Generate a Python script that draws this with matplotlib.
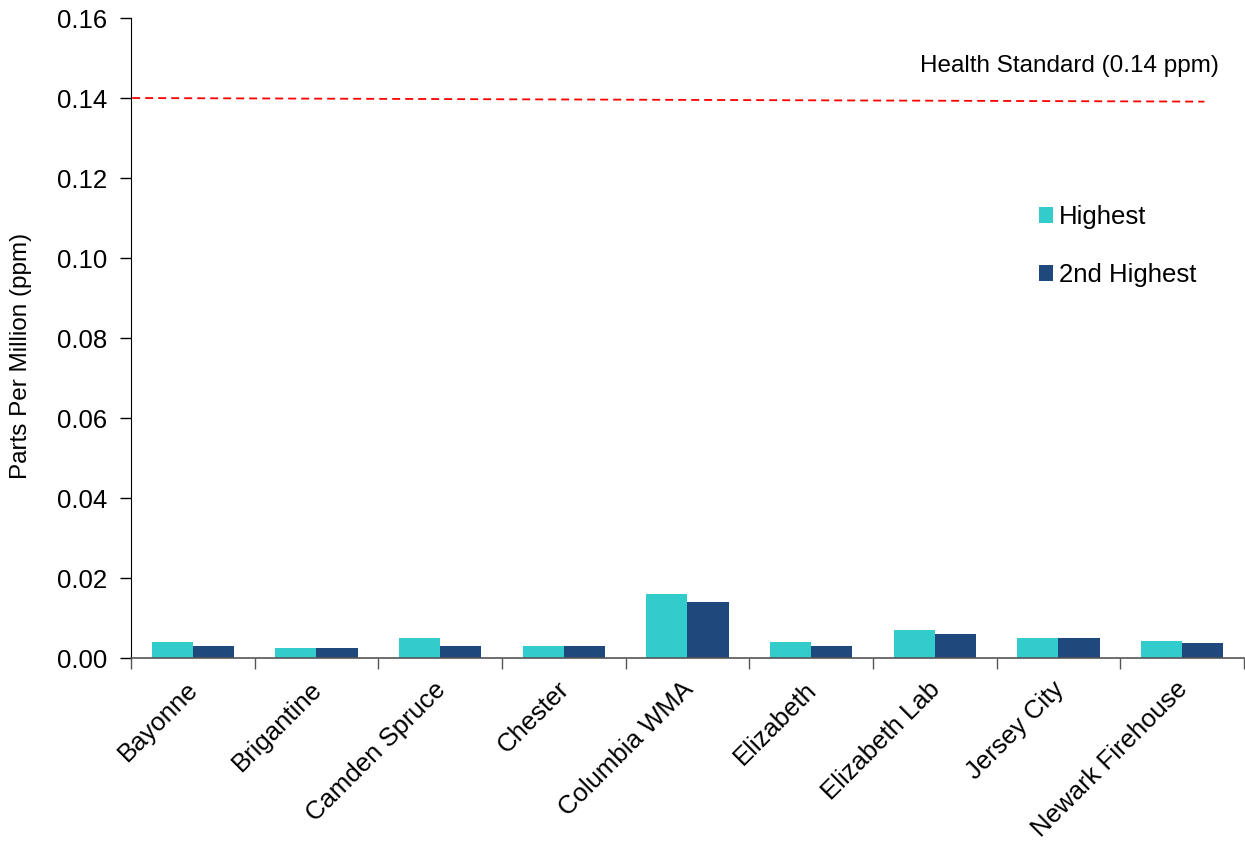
import matplotlib
matplotlib.use("Agg")
import matplotlib.pyplot as plt
import numpy as np

plt.rcParams["font.family"] = ["Liberation Sans", "DejaVu Sans"]

sites = ["Bayonne", "Brigantine", "Camden Spruce", "Chester", "Columbia WMA",
         "Elizabeth", "Elizabeth Lab", "Jersey City", "Newark Firehouse"]
highest = [0.004, 0.0025, 0.005, 0.003, 0.016, 0.004, 0.007, 0.005, 0.0042]
second = [0.003, 0.0024, 0.003, 0.003, 0.014, 0.003, 0.006, 0.005, 0.0038]
standard_ends = [0.1400, 0.1391]
yticks = [0.00, 0.02, 0.04, 0.06, 0.08, 0.10, 0.12, 0.14, 0.16]

C_HI = "#33CCCC"
C_2ND = "#1F497D"

fig = plt.figure(figsize=(12.45, 8.46), dpi=100)
ax = fig.add_axes([0.1052, 0.2222, 0.8940, 0.7565])

x = np.arange(len(sites))
w = 0.334
ax.bar(x - w / 2, highest, w, color=C_HI, label="Highest")
ax.bar(x + w / 2, second, w, color=C_2ND, label="2nd Highest")

# health standard line
ax.plot([-0.49, 8.18], standard_ends, color="#FF0000", lw=1.3,
        linestyle=(0, (4.4, 2.8)), clip_on=False)
ax.text(8.30, 0.148, "Health Standard (0.14 ppm)", fontsize=17.5,
        ha="right", va="center")

ax.set_xlim(-0.5, len(sites) - 0.5)
ax.set_ylim(0, 0.16)
ax.set_yticks(yticks)
ax.set_yticklabels([f"{v:.2f}" for v in yticks], fontsize=18.5)
ax.set_xticks(np.arange(len(sites) + 1) - 0.5)
ax.set_xticklabels([])
for i, s in enumerate(sites):
    ax.text(i - 0.055, -0.0048, s, rotation=45, rotation_mode="anchor",
            ha="right", va="top", fontsize=18.5)
ax.tick_params(axis="y", direction="out", length=8, width=1, pad=9)
ax.tick_params(axis="x", direction="out", length=8, width=1, color="#555555")
fig.text(21 / 1245, 1 - 356 / 846, "Parts Per Million (ppm)", fontsize=17.5,
         rotation=90, ha="center", va="center")

for side in ["top", "right"]:
    ax.spines[side].set_visible(False)
ax.spines["left"].set_color("black")
ax.spines["bottom"].set_color("#555555")
ax.spines["bottom"].set_linewidth(1.2)

ax.legend(loc="upper left", bbox_to_anchor=(0.795, 0.744), frameon=False,
          fontsize=18.5, handlelength=0.55, handleheight=0.55, handletextpad=0.23,
          labelspacing=1.32)

fig.savefig("out.png", dpi=100, facecolor="white")
